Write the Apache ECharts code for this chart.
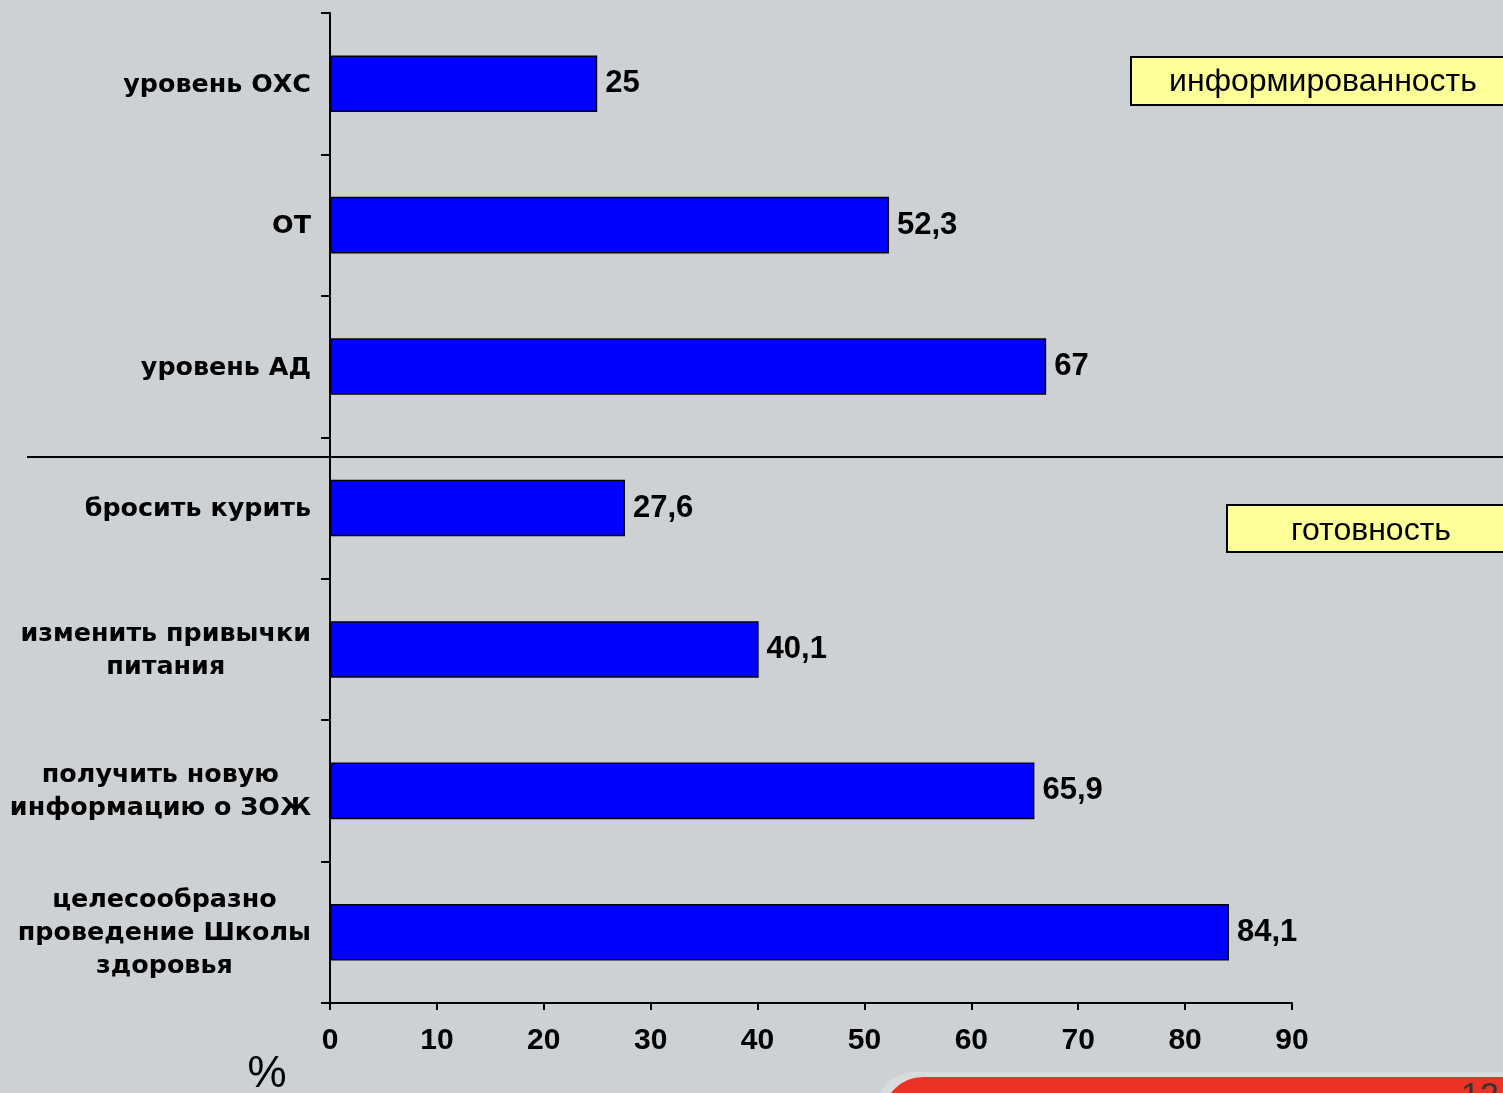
<!DOCTYPE html>
<html>
<head>
<meta charset="utf-8">
<script src="https://cdn.jsdelivr.net/npm/echarts@6/dist/echarts.min.js"></script>
<style>
html,body{margin:0;padding:0;background:#ced1d4;}
#chart{width:1503px;height:1093px;}
</style>
</head>
<body>
<div id="chart"></div>
<script>
const categories = [
  'уровень ОХС',
  'ОТ',
  'уровень АД',
  'бросить курить',
  'изменить привычки\nпитания',
  'получить новую\nинформацию о ЗОЖ',
  'целесообразно\nпроведение Школы\nздоровья'
];
const values = [25, 52.3, 67, 27.6, 40.1, 65.9, 84.1];
const xTicks = { min: 0, max: 90, interval: 10 };
const groupLabels = ['информированность', 'готовность'];
const unitLabel = '%';
const pageNumber = '12';

const chart = echarts.init(document.getElementById('chart'));
const labelFont = 'DejaVu Sans';
const numFont = 'Liberation Sans';

chart.setOption({
  backgroundColor: '#ced1d4',
  animation: false,
  grid: { left: 330, right: 211, top: 13, bottom: 90, containLabel: false },
  xAxis: {
    type: 'value',
    min: xTicks.min, max: xTicks.max, interval: xTicks.interval,
    axisLine: { show: true, lineStyle: { color: '#000', width: 2 } },
    axisTick: { show: true, length: 7, lineStyle: { color: '#000', width: 2 } },
    axisLabel: { margin: 23, color: '#000', fontFamily: numFont, fontWeight: 'bold', fontSize: 30 },
    splitLine: { show: false }
  },
  yAxis: {
    type: 'category',
    data: categories,
    inverse: true,
    axisLine: { show: true, lineStyle: { color: '#000', width: 2 } },
    axisTick: { show: true, length: 9, inside: false, lineStyle: { color: '#000', width: 2 } },
    axisLabel: {
      margin: 19,
      color: '#000',
      align: 'right',
      formatter: function (v) {
        return v.split('\n').map(function (l) { return '{c|' + l + '}'; }).join('\n');
      },
      rich: {
        c: {
          fontFamily: labelFont, fontWeight: 'bold', fontSize: 25.4,
          lineHeight: 33, align: 'center', color: '#000', padding: [3, 0, 0, 0]
        }
      }
    }
  },
  series: [{
    type: 'bar',
    data: values,
    barWidth: '40%',
    itemStyle: { color: '#0000ff', borderColor: '#000', borderWidth: 1.5 },
    label: {
      show: true, position: 'right', distance: 8,
      color: '#000', fontFamily: numFont, fontWeight: 'bold', fontSize: 31,
      formatter: function (p) { return String(p.value).replace('.', ','); }
    }
  }],
  graphic: [
    { type: 'line', shape: { x1: 27, y1: 457, x2: 1503, y2: 457 }, style: { stroke: '#000', lineWidth: 2 }, z: 10 },
    { type: 'rect', shape: { x: 1131, y: 57, width: 380, height: 48 }, style: { fill: '#ffff99', stroke: '#000', lineWidth: 2 }, z: 10 },
    { type: 'text', x: 1323, y: 82, style: { text: groupLabels[0], fill: '#000', font: '32px "Liberation Sans"', textAlign: 'center', textVerticalAlign: 'middle' }, z: 11 },
    { type: 'rect', shape: { x: 1227, y: 505, width: 290, height: 47 }, style: { fill: '#ffff99', stroke: '#000', lineWidth: 2 }, z: 10 },
    { type: 'text', x: 1371, y: 531, style: { text: groupLabels[1], fill: '#000', font: '32px "Liberation Sans"', textAlign: 'center', textVerticalAlign: 'middle' }, z: 11 },
    { type: 'text', x: 267, y: 1075, style: { text: unitLabel, fill: '#000', font: '44px "Liberation Sans"', textAlign: 'center', textVerticalAlign: 'middle' }, z: 11 },
    { type: 'rect', shape: { x: 875, y: 1072, width: 700, height: 40, r: [40, 0, 0, 0] }, style: { fill: '#d9dcdc' }, z: 1 },
    { type: 'rect', shape: { x: 883, y: 1077, width: 700, height: 40, r: [40, 0, 0, 0] }, style: { fill: '#ea3324' }, z: 2 },
    { type: 'text', x: 1480, y: 1080, style: { text: pageNumber, fill: '#333', font: '34px "Liberation Sans"', textAlign: 'center', textVerticalAlign: 'top' }, z: 3 }
  ]
});
</script>
</body>
</html>
